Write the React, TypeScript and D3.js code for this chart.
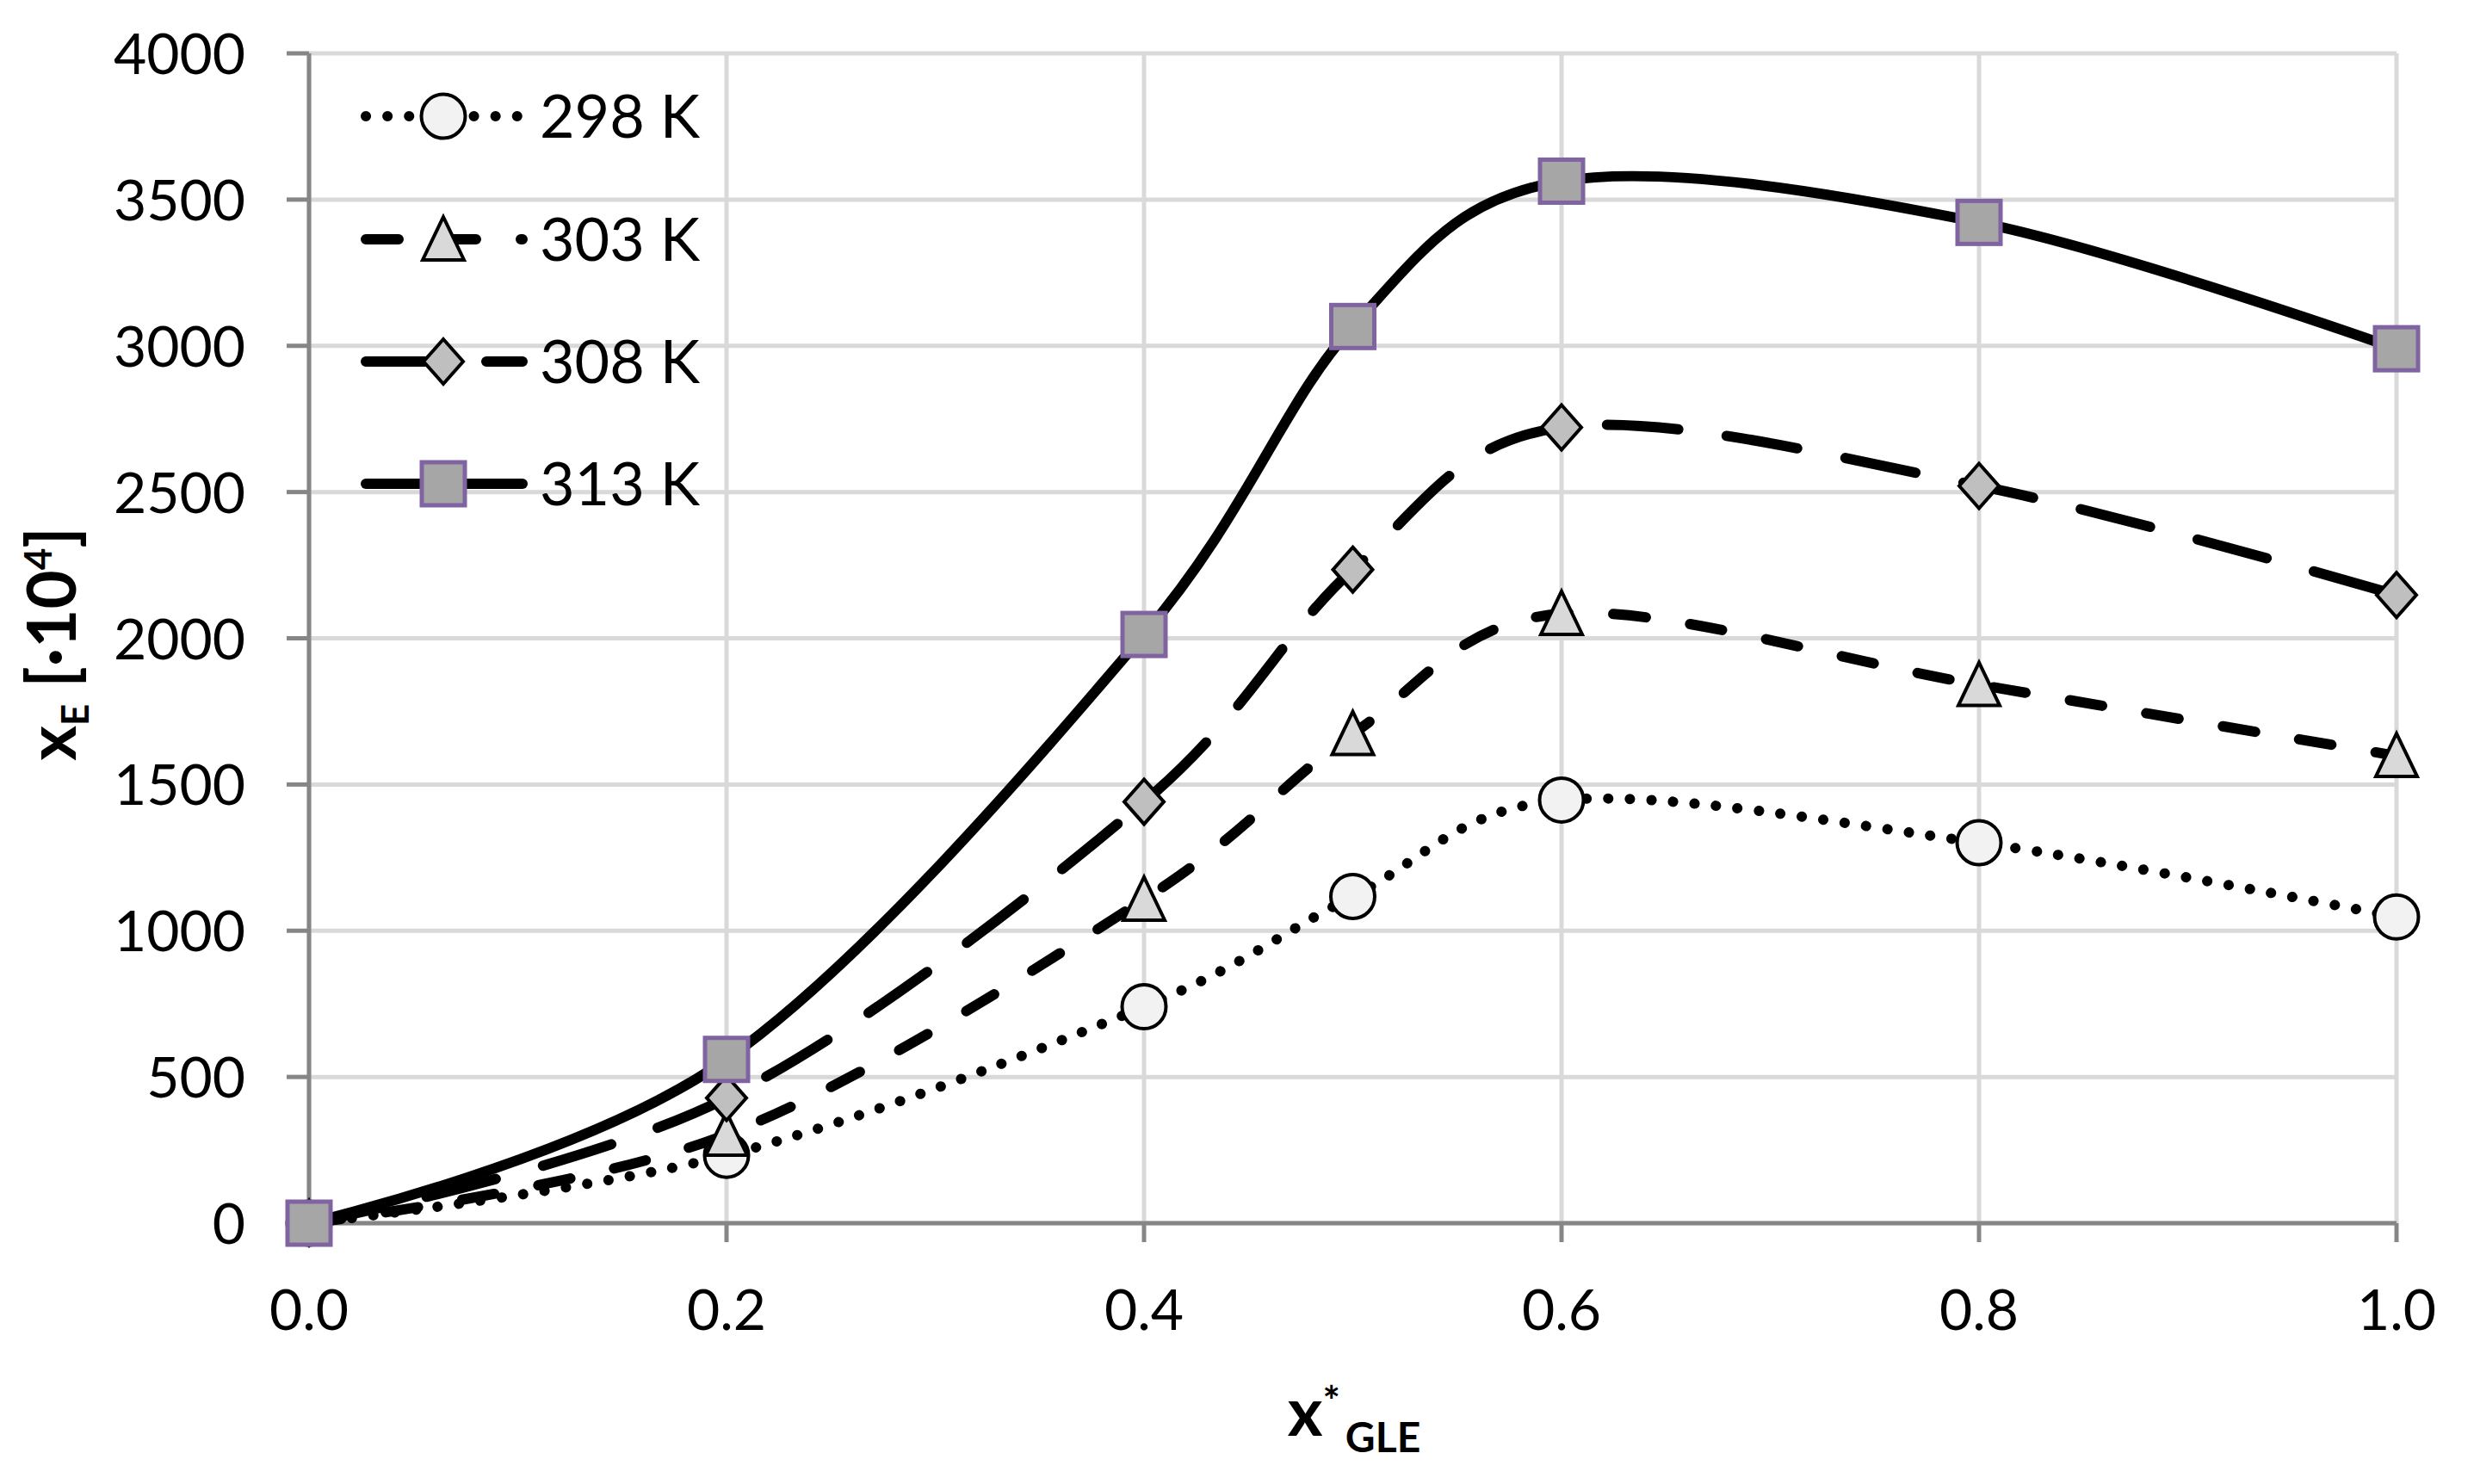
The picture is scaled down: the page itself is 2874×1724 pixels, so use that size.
import React from "react";
import * as d3 from "d3";

// x*GLE values shared by every series
const xValues = [0, 0.2, 0.4, 0.5, 0.6, 0.8, 1.0];

// xE [·10^4] per temperature
const series298 = [0, 232, 740, 1117, 1447, 1301, 1047];
const series303 = [0, 303, 1107, 1673, 2084, 1841, 1598];
const series308 = [0, 428, 1441, 2235, 2721, 2521, 2148];
const series313 = [0, 560, 2013, 3066, 3563, 3422, 2990];

const seriesNames = ["298 K", "303 K", "308 K", "313 K"];

const yTicks = [0, 500, 1000, 1500, 2000, 2500, 3000, 3500, 4000];
const xTicks = [0, 0.2, 0.4, 0.6, 0.8, 1.0];

const width = 2874;
const height = 1724;
const margin = { top: 62, left: 359 };
const font = "Lato, 'Open Sans', 'Liberation Sans', sans-serif";

const axisColor = "#868686";
const gridColor = "#d9d9d9";

const styles = [
  { dash: "0.1 25", width: 12, shape: "circle", fill: "#f2f2f2", stroke: "#000" },
  { dash: "38 52", width: 12, shape: "triangle", fill: "#d9d9d9", stroke: "#000" },
  { dash: "83 57", width: 12, shape: "diamond", fill: "#bfbfbf", stroke: "#000" },
  { dash: null, width: 12, shape: "square", fill: "#a6a6a6", stroke: "#8064a2" },
];

const Marker = ({ shape, x, y, fill, stroke }) => {
  if (shape === "circle") {
    return <circle cx={x} cy={y} r={25.5} fill={fill} stroke={stroke} strokeWidth={4} />;
  }
  if (shape === "triangle") {
    const pts = [
      [x, y - 26],
      [x + 24, y + 24],
      [x - 24, y + 24],
    ];
    return (
      <polygon
        points={pts.map((p) => p.join(",")).join(" ")}
        fill={fill}
        stroke={stroke}
        strokeWidth={4}
      />
    );
  }
  if (shape === "diamond") {
    const pts = [
      [x, y - 26],
      [x + 23, y],
      [x, y + 26],
      [x - 23, y],
    ];
    return (
      <polygon
        points={pts.map((p) => p.join(",")).join(" ")}
        fill={fill}
        stroke={stroke}
        strokeWidth={4}
      />
    );
  }
  return (
    <rect x={x - 25} y={y - 25} width={50} height={50} fill={fill} stroke={stroke} strokeWidth={5} />
  );
};

const App = () => {
  const allSeries = [series298, series303, series308, series313];

  const xScale = d3.scaleLinear().domain([0, 1]).range([margin.left, 2784]);
  const yScale = d3.scaleLinear().domain([0, 4000]).range([1421, margin.top]);

  const line = d3
    .line()
    .x((d) => xScale(d[0]))
    .y((d) => yScale(d[1]))
    .curve(d3.curveCardinal.tension(0));

  const fmtX = d3.format(".1f");

  // legend placement
  const legendX1 = 425;
  const legendX2 = 607;
  const legendMarkX = 515;
  const legendTextX = 627;
  const legendY = [135, 278, 420, 562];

  return (
    <svg
      width={width}
      height={height}
      style={{ position: "absolute", left: 0, top: 0, display: "block", background: "#fff" }}
      fontFamily={font}
    >
      <rect width={width} height={height} fill="#fff" />

      {
        // horizontal gridlines
        yTicks.map((t) => (
          <line
            key={"gy" + t}
            x1={xScale(0)}
            x2={xScale(1)}
            y1={yScale(t)}
            y2={yScale(t)}
            stroke={gridColor}
            strokeWidth={5}
          />
        ))
      }
      {
        // vertical gridlines
        xTicks.map((t) => (
          <line
            key={"gx" + t}
            x1={xScale(t)}
            x2={xScale(t)}
            y1={yScale(0)}
            y2={yScale(4000)}
            stroke={gridColor}
            strokeWidth={5}
          />
        ))
      }

      {/* axes */}
      <line x1={xScale(0)} x2={xScale(0)} y1={yScale(0)} y2={yScale(4000)} stroke={axisColor} strokeWidth={5} />
      <line x1={xScale(0)} x2={xScale(1)} y1={yScale(0)} y2={yScale(0)} stroke={axisColor} strokeWidth={5} />
      {yTicks.map((t) => (
        <g key={"ty" + t}>
          <line x1={xScale(0) - 26} x2={xScale(0)} y1={yScale(t)} y2={yScale(t)} stroke={axisColor} strokeWidth={5} />
          <text x={285} y={yScale(t) + 24} textAnchor="end" fontSize={66} fill="#000">
            {t}
          </text>
        </g>
      ))}
      {xTicks.map((t) => (
        <g key={"tx" + t}>
          <line x1={xScale(t)} x2={xScale(t)} y1={yScale(0)} y2={yScale(0) + 22} stroke={axisColor} strokeWidth={5} />
          <text x={xScale(t)} y={1545} textAnchor="middle" fontSize={66} fill="#000">
            {fmtX(t)}
          </text>
        </g>
      ))}

      {
        // series lines + markers
        allSeries.map((vals, i) => {
          const pts = vals.map((v, j) => [xValues[j], v]);
          const s = styles[i];
          return (
            <g key={seriesNames[i]}>
              <path
                d={line(pts)}
                fill="none"
                stroke="#000"
                strokeWidth={s.width}
                strokeDasharray={s.dash || undefined}
                strokeLinecap="round"
                strokeLinejoin="round"
              />
              {pts.map((p, j) => (
                <Marker
                  key={j}
                  shape={s.shape}
                  x={xScale(p[0])}
                  y={yScale(p[1])}
                  fill={s.fill}
                  stroke={s.stroke}
                />
              ))}
            </g>
          );
        })
      }

      {
        // legend
        seriesNames.map((name, i) => {
          const s = styles[i];
          const y = legendY[i];
          return (
            <g key={"lg" + name}>
              <line
                x1={legendX1}
                x2={legendX2}
                y1={y}
                y2={y}
                stroke="#000"
                strokeWidth={s.width}
                strokeDasharray={s.dash || undefined}
                strokeLinecap="round"
              />
              <Marker shape={s.shape} x={legendMarkX} y={y} fill={s.fill} stroke={s.stroke} />
              <text x={legendTextX} y={y + 25} fontSize={70} fill="#000">
                {name}
              </text>
            </g>
          );
        })
      }

      {/* x axis title */}
      <text x={1573} y={1668} textAnchor="middle" fontWeight="bold" fontSize={78} fill="#000">
        <tspan>x</tspan>
        <tspan fontSize={48} dy={-23}>*</tspan>
        <tspan fontSize={48} dy={42} dx={6}>GLE</tspan>
      </text>

      {/* y axis title */}
      <text
        transform="translate(88,748) rotate(-90)"
        textAnchor="middle"
        fontWeight="bold"
        fontSize={78}
        fill="#000"
      >
        <tspan>x</tspan>
        <tspan fontSize={44} dy={15}>E</tspan>
        <tspan dy={-15}> [·10</tspan>
        <tspan fontSize={44} dy={-28}>4</tspan>
        <tspan dy={28}>]</tspan>
      </text>
    </svg>
  );
};

export default App;
